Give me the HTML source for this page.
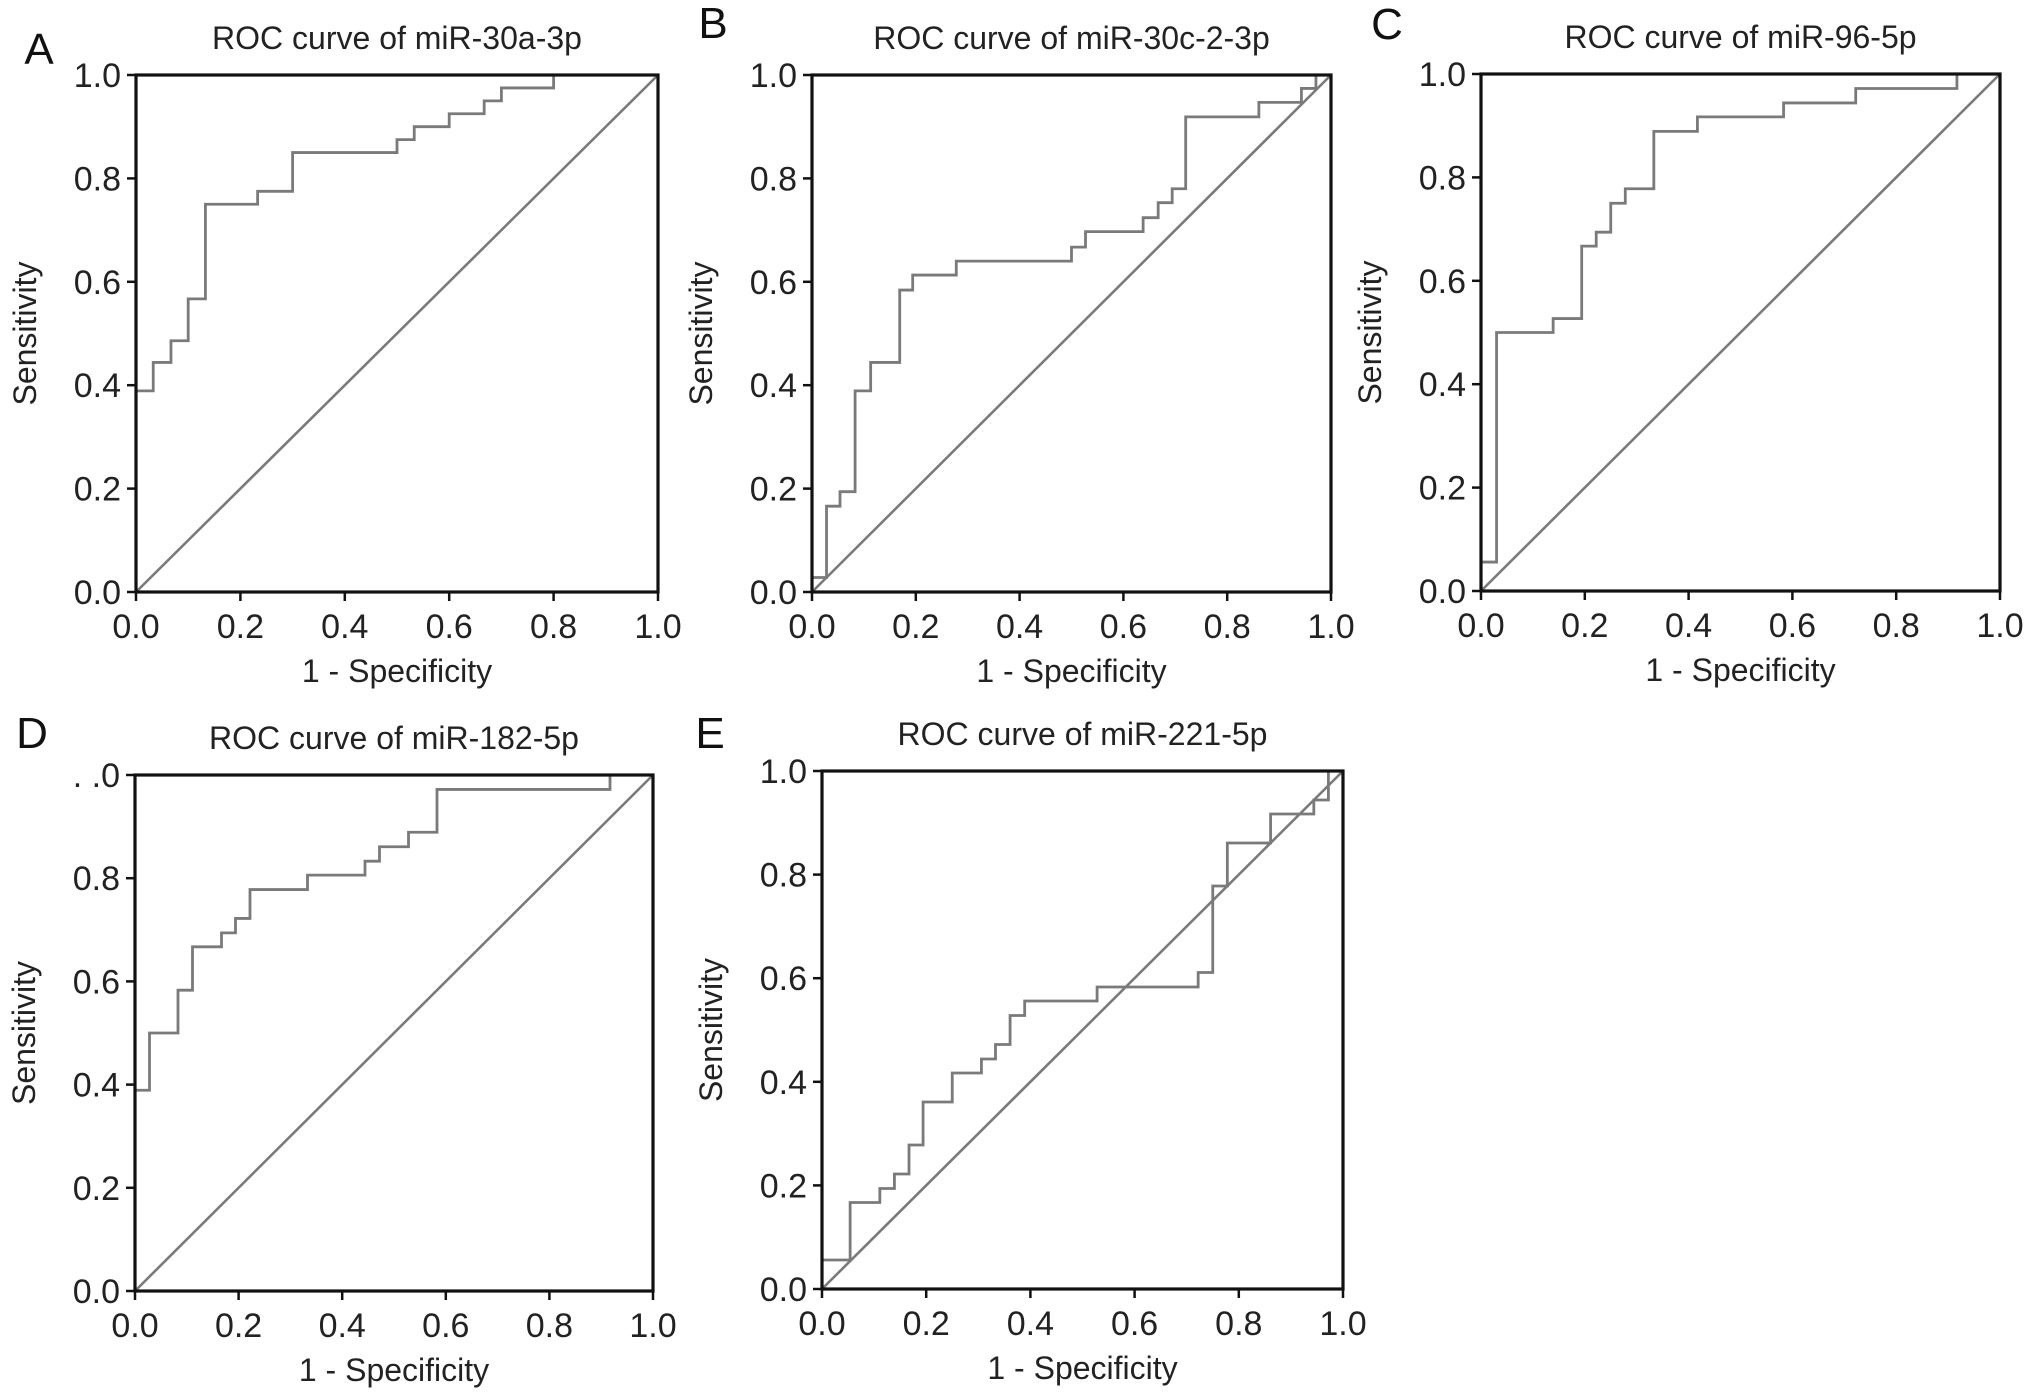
<!DOCTYPE html>
<html><head><meta charset="utf-8"><style>
html,body{margin:0;padding:0;background:#fff}
svg{display:block;font-family:"Liberation Sans",Arial,sans-serif}
</style></head><body>
<svg id="fig" width="2032" height="1400" viewBox="0 0 2032 1400"></svg>
<script>
// ROC step vertices (1 - specificity, sensitivity)
const aFpr = [0,0,0.033,0.067,0.1,0.133,0.233,0.3,0.5,0.533,0.6,0.667,0.7,0.8,1];
const aTpr = [0,0.389,0.444,0.486,0.567,0.75,0.775,0.85,0.875,0.9,0.925,0.95,0.975,1,1];
const bFpr = [0,0,0.028,0.054,0.083,0.113,0.169,0.194,0.278,0.5,0.527,0.638,0.667,0.694,0.72,0.861,0.943,0.971,1];
const bTpr = [0,0.028,0.166,0.194,0.389,0.444,0.584,0.613,0.64,0.667,0.697,0.724,0.753,0.78,0.919,0.947,0.974,1,1];
const cFpr = [0,0,0.03,0.139,0.194,0.222,0.25,0.278,0.333,0.417,0.583,0.722,0.917,1];
const cTpr = [0,0.056,0.5,0.527,0.667,0.694,0.75,0.778,0.889,0.917,0.944,0.972,1,1];
const dFpr = [0,0,0.028,0.083,0.111,0.167,0.194,0.222,0.333,0.444,0.472,0.528,0.583,0.917,1];
const dTpr = [0,0.389,0.5,0.583,0.667,0.694,0.722,0.778,0.806,0.833,0.861,0.889,0.972,1,1];
const eFpr = [0,0,0.054,0.111,0.139,0.167,0.194,0.25,0.306,0.333,0.361,0.389,0.528,0.722,0.75,0.778,0.861,0.944,0.972,1];
const eTpr = [0,0.056,0.167,0.194,0.222,0.278,0.361,0.417,0.444,0.472,0.528,0.556,0.583,0.611,0.778,0.861,0.917,0.944,1,1];
const tickValues = [0,0.2,0.4,0.6,0.8,1.0];
const tickLabels = ["0.0","0.2","0.4","0.6","0.8","1.0"];
const dTopLabel = ". .0";

const NS = "http://www.w3.org/2000/svg";
const svg = document.getElementById('fig');
function mk(tag, attrs, parent){const e=document.createElementNS(NS,tag);for(const k in attrs)e.setAttribute(k,attrs[k]);(parent||svg).appendChild(e);return e;}

const panels = [
 {id:'a',letter:'A',lx:39,ly:64,title:'ROC curve of miR-30a-3p',L:136,T:75,R:658,B:592,fpr:aFpr,tpr:aTpr},
 {id:'b',letter:'B',lx:713,ly:38,title:'ROC curve of miR-30c-2-3p',L:812,T:75,R:1331,B:592,fpr:bFpr,tpr:bTpr},
 {id:'c',letter:'C',lx:1387,ly:39,title:'ROC curve of miR-96-5p',L:1481,T:74,R:2000,B:591,fpr:cFpr,tpr:cTpr},
 {id:'d',letter:'D',lx:32,ly:748,title:'ROC curve of miR-182-5p',L:135,T:775,R:653,B:1291,fpr:dFpr,tpr:dTpr},
 {id:'e',letter:'E',lx:710,ly:748,title:'ROC curve of miR-221-5p',L:822,T:771,R:1343,B:1289,fpr:eFpr,tpr:eTpr}
];

panels.forEach(p=>{
  const g = mk('g',{});
  
  
  const sx = v => p.L + v*(p.R-p.L);
  const sy = v => p.B - v*(p.B-p.T);
  const letter = mk('text',{x:p.lx,y:p.ly,'text-anchor':'middle','font-size':44,fill:'#111'},g);
  letter.textContent = p.letter;
  
  
  const title = mk('text',{x:(p.L+p.R)/2,y:p.T-26,'text-anchor':'middle','font-size':32,fill:'#222'},g);
  title.textContent = p.title;
  
  
  const diag = mk('line',{x1:sx(0),y1:sy(0),x2:sx(1),y2:sy(1),stroke:'#7a7a7a','stroke-width':2.6},g);
  
  
  let d = 'M'+sx(p.fpr[0])+','+sy(p.tpr[0]);
  for(let i=1;i<p.fpr.length;i++){
    d += ' L'+sx(p.fpr[i])+','+sy(p.tpr[i-1])+' L'+sx(p.fpr[i])+','+sy(p.tpr[i]);
  }
  const curve = mk('path',{d:d,fill:'none',stroke:'#7a7a7a','stroke-width':2.8},g);
  
  
  const frame = mk('rect',{x:p.L,y:p.T,width:p.R-p.L,height:p.B-p.T,fill:'none',stroke:'#111','stroke-width':3.2},g);
  
  
  tickValues.forEach((v,i)=>{
    const xt = mk('line',{x1:sx(v),y1:p.B,x2:sx(v),y2:p.B+9,stroke:'#111','stroke-width':2.5},g);
    
    
    const xl = mk('text',{x:sx(v),y:p.B+46,'text-anchor':'middle','font-size':34,fill:'#222'},g);
    xl.textContent = tickLabels[i];
    
    
    const yt = mk('line',{x1:p.L-9,y1:sy(v),x2:p.L,y2:sy(v),stroke:'#111','stroke-width':2.5},g);
    
    
    const yl = mk('text',{x:p.L-15,y:sy(v)+12,'text-anchor':'end','font-size':34,fill:'#222'},g);
    yl.textContent = (p.id==='d' && i===5) ? dTopLabel : tickLabels[i];
    
    
  });
  const xa = mk('text',{x:(p.L+p.R)/2,y:p.B+90,'text-anchor':'middle','font-size':32,fill:'#222'},g);
  xa.textContent = '1 - Specificity';
  
  
  const cy = (p.T+p.B)/2, cx = p.L-100;
  const ya = mk('text',{x:cx,y:cy,'text-anchor':'middle','font-size':32,fill:'#222',transform:'rotate(-90 '+cx+' '+cy+')'},g);
  ya.textContent = 'Sensitivity';
  
  
});
</script>
</body></html>
